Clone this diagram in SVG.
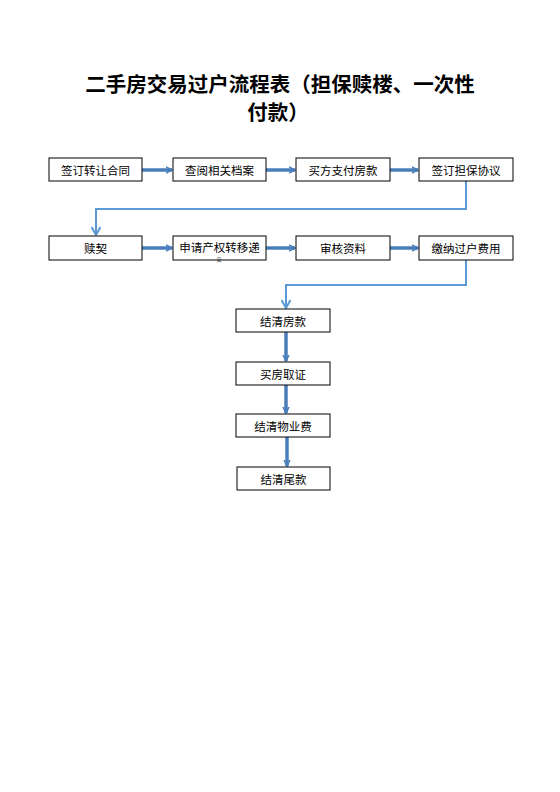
<svg xmlns="http://www.w3.org/2000/svg" width="560" height="792" viewBox="0 0 560 792">
<style>
.bg{fill:#fff}
.box{fill:#fff;stroke:#000;stroke-width:1}
.lbl{font-family:"Noto Sans CJK SC","Liberation Sans",sans-serif;font-size:11.5px;fill:#000;text-anchor:middle;dominant-baseline:central}
.title{font-family:"Noto Sans CJK SC","Liberation Sans",sans-serif;font-size:20.5px;font-weight:bold;fill:#000;text-anchor:middle}
.thick{fill:none;stroke:#4a7ebb;stroke-width:3.5}
.thin{fill:none;stroke:#5b9bd5;stroke-width:2}
</style>
<defs>
<marker id="ah" markerWidth="8" markerHeight="8" refX="6" refY="4" orient="auto" markerUnits="userSpaceOnUse">
<path d="M0,1 L6,4 L0,7" fill="none" stroke="#4a7ebb" stroke-width="1.5"/>
</marker>
<marker id="ah2" markerWidth="12" markerHeight="10" refX="9" refY="5" orient="auto" markerUnits="userSpaceOnUse">
<path d="M1,0.5 L9,5 L1,9.5" fill="none" stroke="#5b9bd5" stroke-width="2"/>
</marker>
</defs>
<rect class="bg" x="0" y="0" width="560" height="792"/>
<g id="title">
<text class="title" x="280" y="92">二手房交易过户流程表（担保赎楼、一次性</text>
<text class="title" x="278" y="120">付款）</text>
</g>
<g id="connectors">
<line class="thick" x1="142" y1="170" x2="172" y2="170" marker-end="url(#ah)"/>
<line class="thick" x1="266" y1="170" x2="295" y2="170" marker-end="url(#ah)"/>
<line class="thick" x1="390" y1="170" x2="418" y2="170" marker-end="url(#ah)"/>
<polyline class="thin" points="466,181 466,209 96,209 96,235" marker-end="url(#ah2)"/>
<line class="thick" x1="142" y1="248" x2="172" y2="248" marker-end="url(#ah)"/>
<line class="thick" x1="266" y1="248" x2="295" y2="248" marker-end="url(#ah)"/>
<line class="thick" x1="390" y1="248" x2="418" y2="248" marker-end="url(#ah)"/>
<polyline class="thin" points="466,260 466,285 286,285 286,308" marker-end="url(#ah2)"/>
<line class="thick" x1="286" y1="332" x2="286" y2="361" marker-end="url(#ah)"/>
<line class="thick" x1="286" y1="385" x2="286" y2="413" marker-end="url(#ah)"/>
<line class="thick" x1="287" y1="437" x2="287" y2="466" marker-end="url(#ah)"/>
</g>
<g id="n1"><rect class="box" x="49" y="158" width="93" height="23"/><text class="lbl" x="95.5" y="169.5">签订转让合同</text></g>
<g id="n2"><rect class="box" x="173" y="158" width="93" height="23"/><text class="lbl" x="219.5" y="169.5">查阅相关档案</text></g>
<g id="n3"><rect class="box" x="296" y="158" width="94" height="23"/><text class="lbl" x="343" y="169.5">买方支付房款</text></g>
<g id="n4"><rect class="box" x="419" y="158" width="94" height="23"/><text class="lbl" x="466" y="169.5">签订担保协议</text></g>
<g id="n5"><rect class="box" x="49" y="236" width="93" height="24"/><text class="lbl" x="95.5" y="248">赎契</text></g>
<g id="n6"><rect class="box" x="173" y="236" width="93" height="24"/><text class="lbl" x="219.5" y="247">申请产权转移递</text><text class="lbl" x="219" y="258" style="font-size:5px">交</text></g>
<g id="n7"><rect class="box" x="296" y="236" width="94" height="24"/><text class="lbl" x="343" y="248">审核资料</text></g>
<g id="n8"><rect class="box" x="419" y="236" width="94" height="24"/><text class="lbl" x="466" y="248">缴纳过户费用</text></g>
<g id="n9"><rect class="box" x="236" y="309" width="94" height="23"/><text class="lbl" x="283" y="320.5">结清房款</text></g>
<g id="n10"><rect class="box" x="236" y="362" width="94" height="23"/><text class="lbl" x="283" y="373.5">买房取证</text></g>
<g id="n11"><rect class="box" x="236" y="414" width="94" height="23"/><text class="lbl" x="283" y="425.5">结清物业费</text></g>
<g id="n12"><rect class="box" x="237" y="467" width="93" height="23"/><text class="lbl" x="283.5" y="478.5">结清尾款</text></g>
</svg>
